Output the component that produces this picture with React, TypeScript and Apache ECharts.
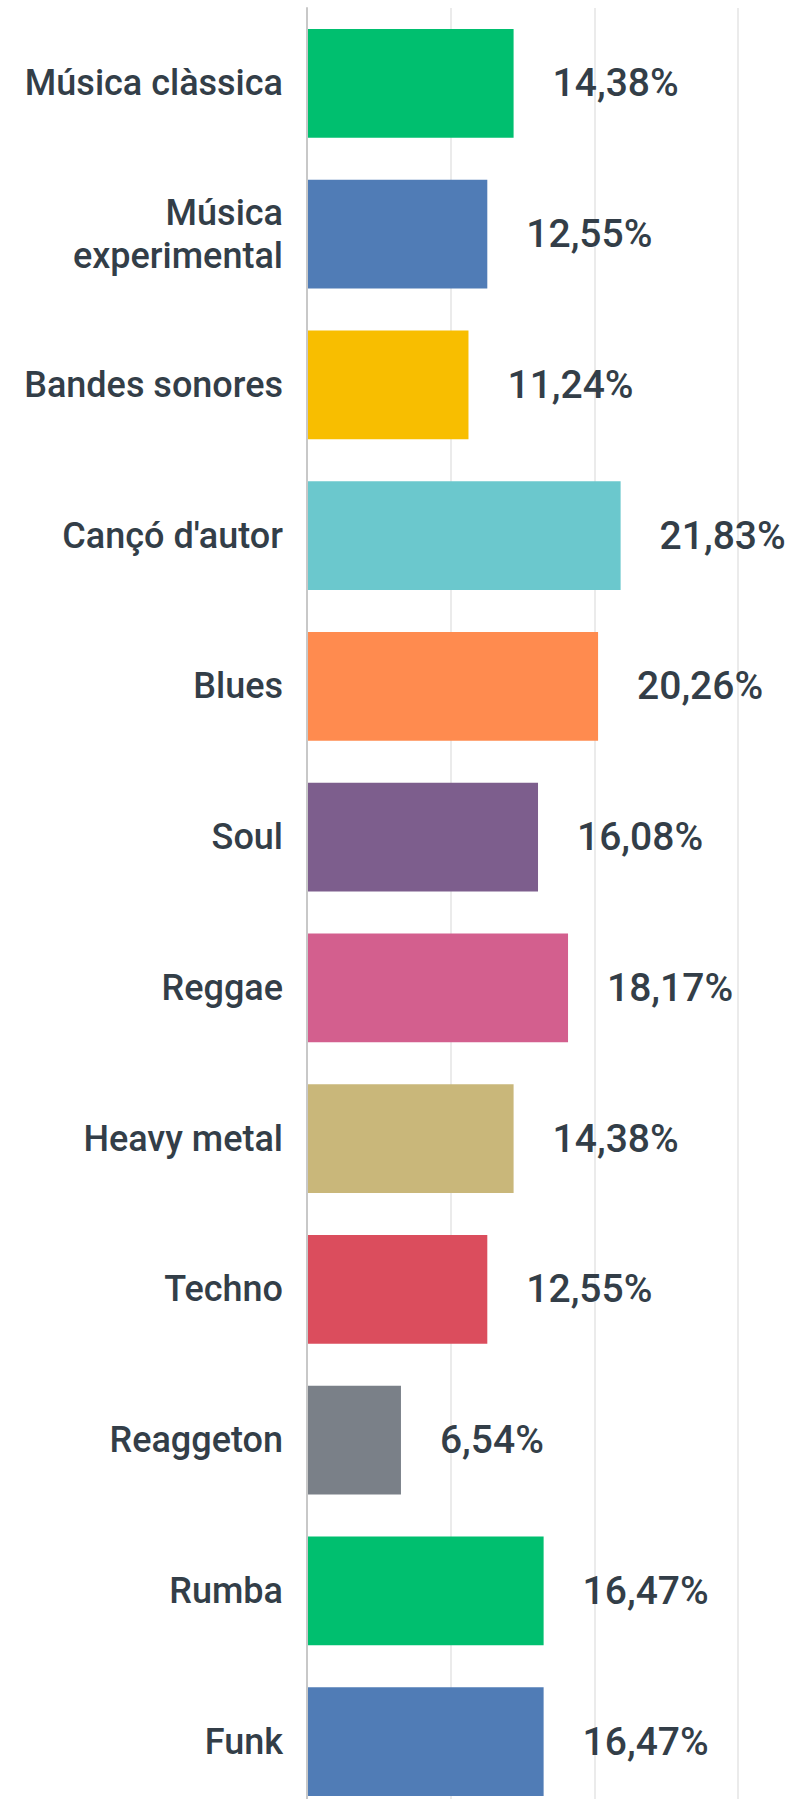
import React, { useEffect, useRef } from "react";
import * as echarts from "echarts";

const categories = [
  "Música clàssica",
  "Música\nexperimental",
  "Bandes sonores",
  "Cançó d'autor",
  "Blues",
  "Soul",
  "Reggae",
  "Heavy metal",
  "Techno",
  "Reaggeton",
  "Rumba",
  "Funk",
];

const values = [14.38, 12.55, 11.24, 21.83, 20.26, 16.08, 18.17, 14.38, 12.55, 6.54, 16.47, 16.47];

const colors = [
  "#00BF6F",
  "#507CB6",
  "#F8BE00",
  "#6BC8CD",
  "#FF8B4F",
  "#7D5E8D",
  "#D35F8E",
  "#C9B77A",
  "#DB4D5D",
  "#7A8088",
  "#00BF6F",
  "#507CB6",
];

const xTicks = [0, 10, 20, 30];

export default function App() {
  const ref = useRef<HTMLDivElement>(null);

  useEffect(() => {
    if (!ref.current) return;
    const chart = echarts.init(ref.current, undefined, { renderer: "svg" });
    const textColor = "#333e48";
    chart.setOption({
      animation: false,
      backgroundColor: "#ffffff",
      grid: { left: 307, right: 49, top: 8, bottom: 13, containLabel: false },
      xAxis: {
        type: "value",
        min: xTicks[0],
        max: xTicks[xTicks.length - 1],
        interval: 10,
        axisLine: { show: false },
        axisTick: { show: false },
        axisLabel: { show: false },
        splitLine: { show: true, lineStyle: { color: "#ebebeb", width: 2 } },
      },
      yAxis: {
        type: "category",
        data: categories,
        inverse: true,
        z: 3,
        axisLine: { show: true, lineStyle: { color: "#c8c8c8", width: 2 } },
        axisTick: { show: false },
        splitLine: { show: false },
        axisLabel: {
          margin: 24,
          color: textColor,
          fontFamily: "Roboto",
          fontWeight: 500,
          fontSize: 36,
          lineHeight: 43,
          align: "right",
        },
      },
      series: [
        {
          type: "bar",
          barCategoryGap: "28%",
          data: values.map((v, i) => ({ value: v, itemStyle: { color: colors[i] } })),
          label: {
            show: true,
            position: "right",
            distance: 39,
            color: textColor,
            fontFamily: "Roboto",
            fontWeight: 500,
            fontSize: 39,
            formatter: (p: any) => p.value.toFixed(2).replace(".", ",") + "%",
          },
        },
      ],
    });
    return () => chart.dispose();
  }, []);

  return (
    <div
      style={{
        position: "fixed",
        left: 0,
        top: 0,
        width: 787,
        height: 1799,
        overflow: "hidden",
        background: "#fff",
      }}
    >
      <div ref={ref} style={{ width: 787, height: 1830 }} />
    </div>
  );
}
